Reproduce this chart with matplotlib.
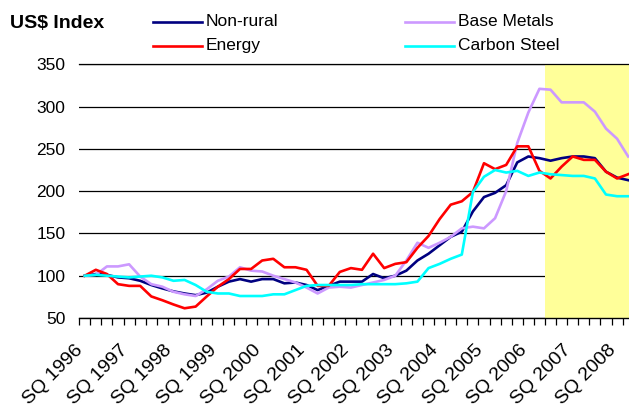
import numpy as np
import matplotlib
matplotlib.use("Agg")
import matplotlib.pyplot as plt
import matplotlib.transforms as mtransforms
from matplotlib.lines import Line2D

# Quarterly price indices (SQ 1996 = 100), September quarter 1996 onwards
non_rural = [100, 102, 101, 98, 97, 94, 89, 85, 81.5, 79, 77, 80, 87, 93, 96, 93, 96, 96,
             91, 92, 89, 83, 88, 93, 93, 93, 102, 97, 100, 106, 118, 126, 136, 146, 152,
             176, 193, 198, 207, 234, 241, 239, 236, 239, 241, 241, 239, 223, 216, 213]
energy = [100, 107, 102, 90, 88, 88, 75.5, 71, 66, 61.5, 63.5, 75.5, 87, 96, 108, 108, 118,
          120, 110, 110, 107, 88, 88, 104.5, 109, 107, 126, 109, 114, 116, 133, 147, 167,
          184, 188, 199, 233, 226, 231, 253, 253, 224, 215, 229, 241, 237, 237, 223, 215, 220]
base_metals = [100, 101, 111, 111, 113.5, 99, 90, 87, 81, 78, 76, 84, 94, 99, 110, 106, 105,
               100, 96, 92, 86, 79, 86, 87, 86, 89, 92, 95, 100, 118, 139, 133, 139, 146,
               156, 158, 156, 168, 200, 257, 293, 321, 320, 305, 305, 305, 294, 274, 262, 241]
carbon_steel = [100, 101, 100, 99, 98, 99, 100, 98, 94, 95, 89, 81, 79, 79, 76, 76, 76, 78,
                78, 83, 88, 89, 89, 89, 89, 90, 90, 90, 90, 91, 93, 109, 114, 120, 125, 199,
                217, 225, 222, 224, 218, 222, 220, 219, 218, 218, 215, 196, 194, 194]

year_labels = ["SQ 1996", "SQ 1997", "SQ 1998", "SQ 1999", "SQ 2000", "SQ 2001", "SQ 2002",
               "SQ 2003", "SQ 2004", "SQ 2005", "SQ 2006", "SQ 2007", "SQ 2008"]
forecast_start = 42  # first forecast quarter (shaded)

series = [
    ("Non-rural", non_rural, "#000080"),
    ("Base Metals", base_metals, "#CC99FF"),
    ("Energy", energy, "#FF0000"),
    ("Carbon Steel", carbon_steel, "#00FFFF"),
]

plt.rcParams["font.family"] = ["Liberation Sans", "DejaVu Sans"]

W, H = 629, 412
fig = plt.figure(figsize=(W / 100, H / 100), dpi=100)
ax = fig.add_axes([79.2 / W, (H - 318) / H, 554.5 / W, 253.7 / H])

n = len(non_rural)
x = np.arange(n)
ax.set_xlim(-0.5, n - 0.5)
ax.set_ylim(50, 350)

# forecast shading
ax.axvspan(forecast_start - 0.5, n - 0.5, color="#FFFF99", zorder=1, lw=0)

# horizontal gridlines
ax.set_yticks(np.arange(50, 351, 50))
ax.yaxis.grid(True, color="black", lw=0.9)
ax.set_axisbelow(True)
ax.axhline(350, color="black", lw=0.9, zorder=1.5, clip_on=False)

for name, vals, col in series:
    ax.plot(x, vals, color=col, lw=1.9, zorder=3, solid_joinstyle="round")

for side in ("left", "right", "top"):
    ax.spines[side].set_visible(False)
ax.spines["bottom"].set_color("black")
ax.spines["bottom"].set_linewidth(1.0)
ax.spines["bottom"].set_zorder(4)

ax.tick_params(axis="y", length=0, pad=10, labelsize=12.5)

label_pos = np.arange(0, 4 * len(year_labels), 4)
ax.set_xticks(label_pos)
ax.set_xticklabels(year_labels, rotation=45, ha="right", va="top",
                   rotation_mode="anchor", fontsize=14)
ax.set_xticks(np.arange(-0.5, n, 1), minor=True)
ax.tick_params(axis="x", which="major", length=0, pad=17)
ax.tick_params(axis="x", which="minor", length=5, width=0.9, color="black", direction="out")
shift = mtransforms.ScaledTranslation(-10 / 100, 0, fig.dpi_scale_trans)
for lab in ax.get_xticklabels():
    lab.set_transform(lab.get_transform() + shift)

# title and legend
fig.text(10 / W, 1 - 24 / H, "US$ Index", fontsize=14, fontweight="bold",
         ha="left", va="center")
legend_items = [
    ("Non-rural", "#000080", 152.7, 22),
    ("Energy", "#FF0000", 152.7, 46),
    ("Base Metals", "#CC99FF", 405, 22),
    ("Carbon Steel", "#00FFFF", 405, 46),
]
for name, col, x0, y0 in legend_items:
    fig.add_artist(Line2D([x0 / W, (x0 + 49) / W], [1 - y0 / H, 1 - y0 / H],
                          color=col, lw=1.9, transform=fig.transFigure))
    fig.text((x0 + 53) / W, 1 - (y0 - 0.5) / H, name, fontsize=12.5,
             ha="left", va="center")

fig.savefig("out.png", dpi=100)
